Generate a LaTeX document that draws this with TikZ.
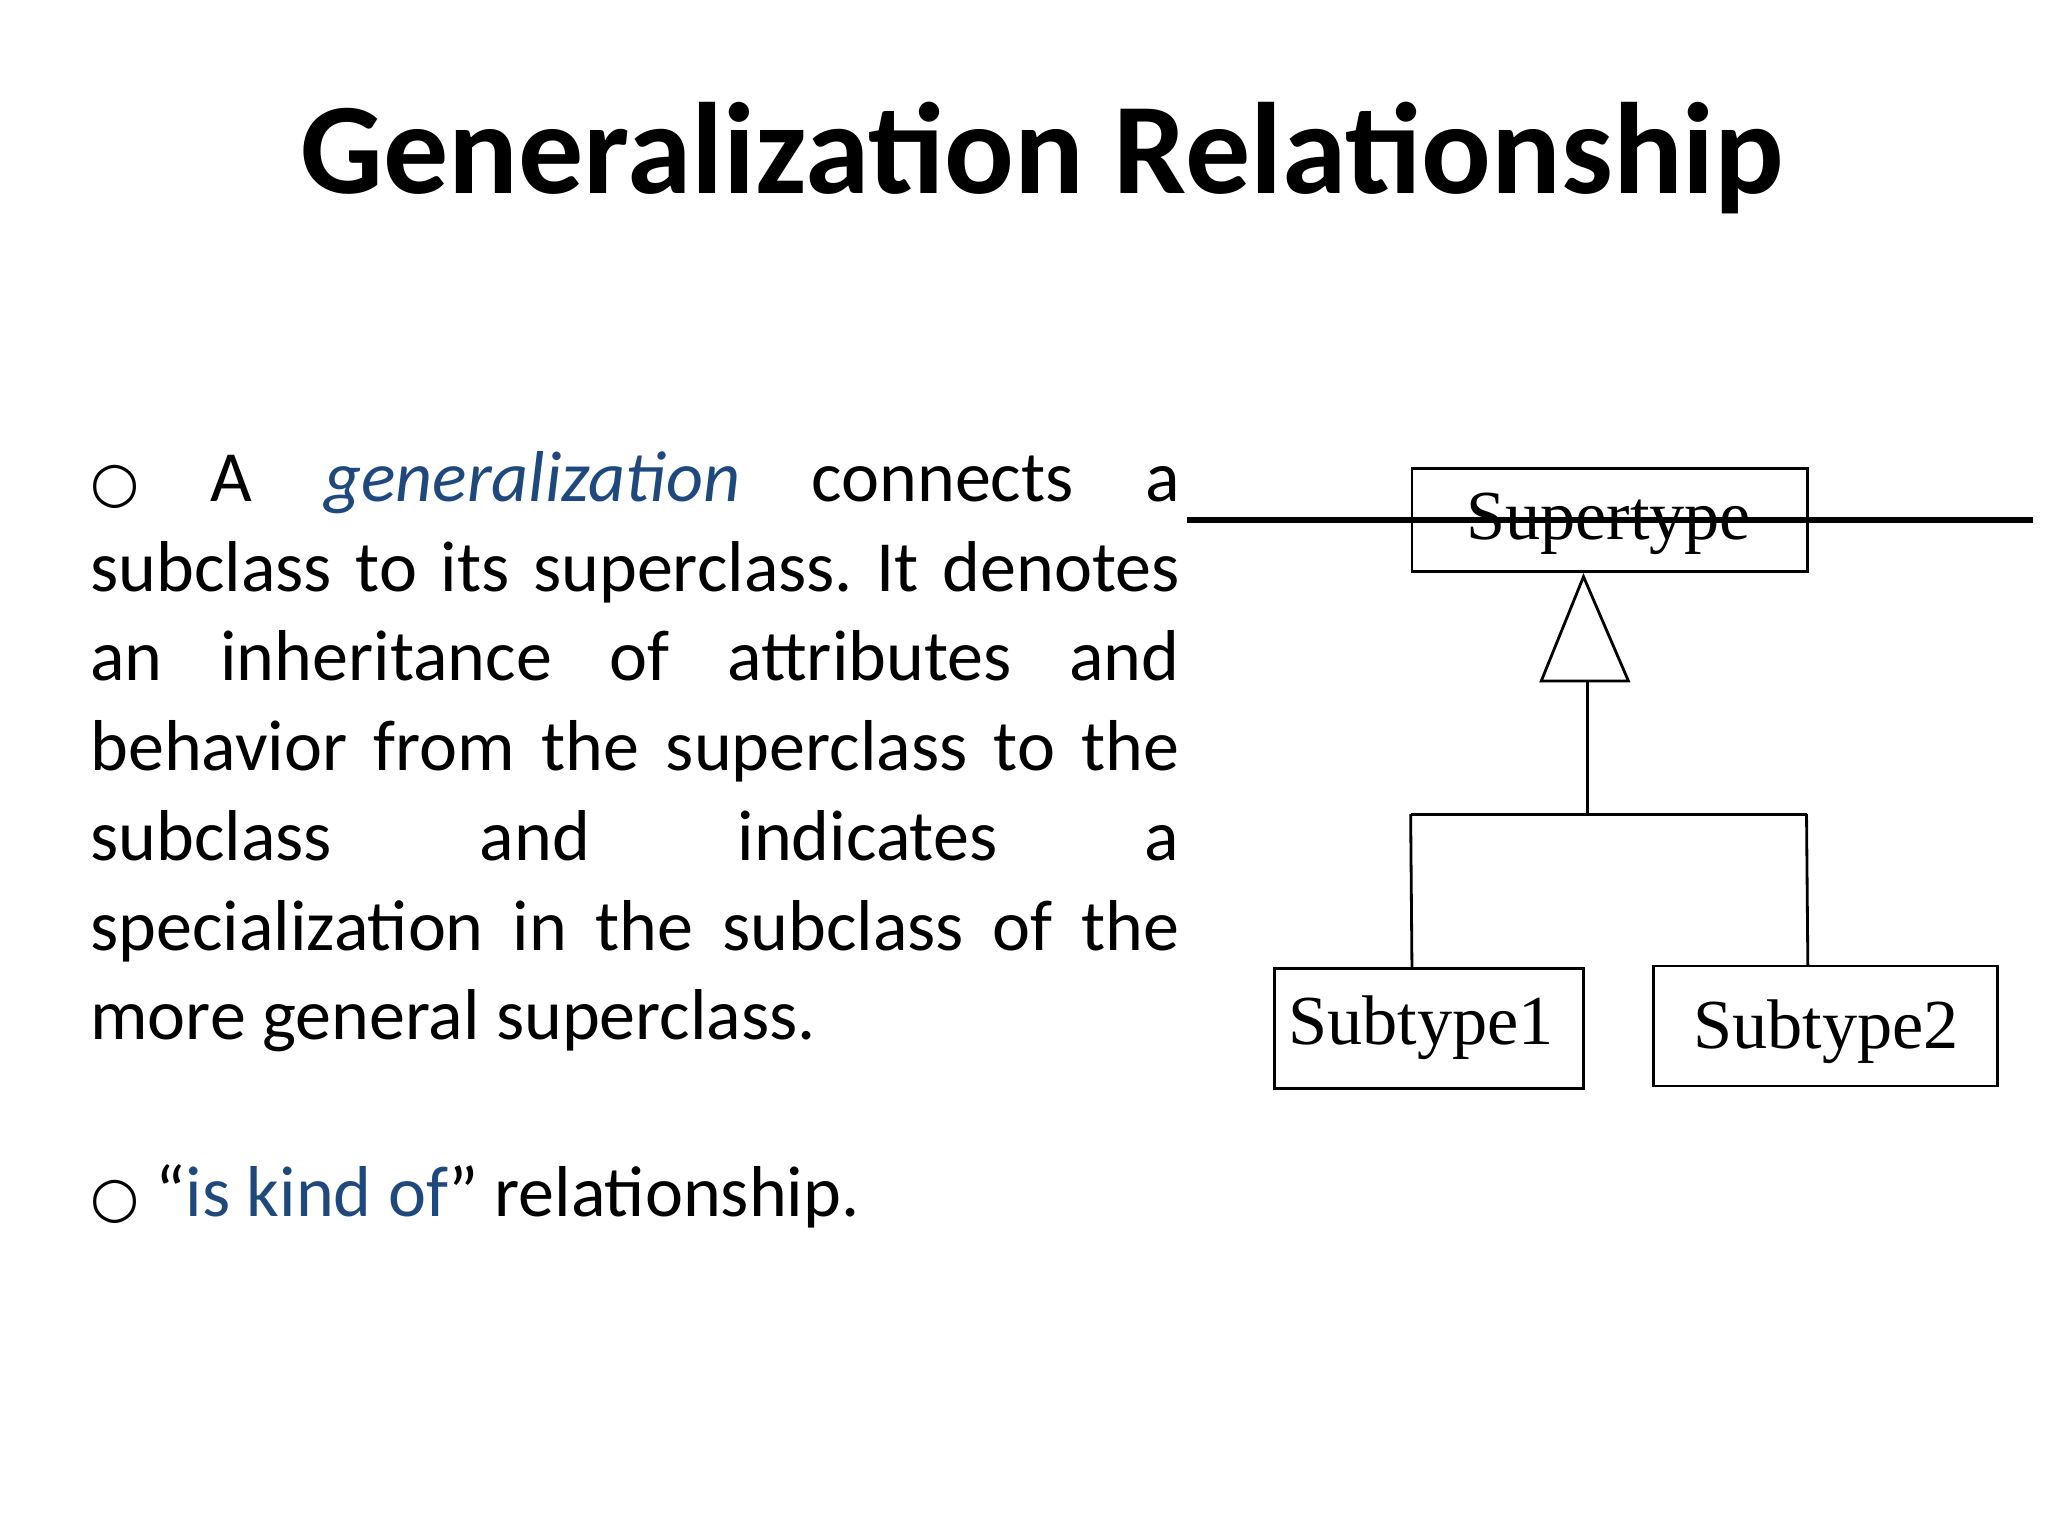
\documentclass[tikz,border=0pt]{standalone}
\usepackage{fontspec}
\setmainfont{Carlito}
\newfontfamily\symf{DejaVu Sans}
\newfontfamily\tms{Liberation Serif}
\definecolor{kblue}{RGB}{31,73,125}
\begin{document}
\begin{tikzpicture}[x=0.013196cm,y=-0.013196cm,
  umlbox/.style={draw,line width=0.8pt,inner sep=0pt,font=\tms\fontsize{20}{24}\selectfont},
  ln/.style={anchor=base west,inner sep=0pt,font=\fontsize{20.5}{24}\selectfont},
  conn/.style={line width=0.8pt}]
\useasboundingbox (0,0) rectangle (1552,1164);
\node[font=\bfseries\fontsize{37}{44}\selectfont] (title) at (790,120) {Generalization Relationship};
\newcommand\bul{{\symf\fontsize{16}{20}\selectfont ○}}
\def\W{310pt}
\node[ln] (l1) at (68,380) {\hbox to \W{\bul\hfill A\hfill\textcolor{kblue}{\itshape generalization}\hfill connects\hfill a}};
\node[ln] (l2) at (68,448) {\hbox to \W{subclass\hfill to\hfill its\hfill superclass.\hfill It\hfill denotes}};
\node[ln] (l3) at (68,516) {\hbox to \W{an\hfill inheritance\hfill of\hfill attributes\hfill and}};
\node[ln] (l4) at (68,584) {\hbox to \W{behavior\hfill from\hfill the\hfill superclass\hfill to\hfill the}};
\node[ln] (l5) at (68,652) {\hbox to \W{subclass\hfill and\hfill indicates\hfill a}};
\node[ln] (l6) at (68,720) {\hbox to \W{specialization\hfill in\hfill the\hfill subclass\hfill of\hfill the}};
\node[ln] (l7) at (68,788) {more general superclass.};
\node[ln] (l8) at (68,922) {\bul\ “\textcolor{kblue}{is kind of}” relationship.};
\node[umlbox,minimum width=300\pgflinewidth] (sup) at (1220,394) {};
\draw[conn] (1070,355) rectangle (1370,433);
\node[font=\tms\fontsize{20}{24}\selectfont] (supt) at (1219,397) {Supertype};
\draw[conn] (966,734) rectangle (1200,825);
\node[font=\tms\fontsize{20}{24}\selectfont] (s1t) at (1077,779) {Subtype1};
\draw[conn] (1253,732) rectangle (1514,823);
\node[font=\tms\fontsize{20}{24}\selectfont] (s2t) at (1384,782) {Subtype2};
\coordinate (apex) at (1200,437);
\coordinate (bl) at (1168,516);
\coordinate (br) at (1234,516);
\coordinate (bm) at (1203,516);
\coordinate (j) at (1203,617);
\coordinate (hl) at (1069,617);
\coordinate (hr) at (1369,617);
\coordinate (d1) at (1070,734);
\coordinate (d2) at (1370,732);
\draw[conn] (apex) -- (bl) -- (br) -- cycle;
\draw[conn] (bm) -- (j);
\draw[conn] (hl) -- (hr);
\draw[conn] (hl) -- (d1);
\draw[conn] (hr) -- (d2);
\end{tikzpicture}
\end{document}
